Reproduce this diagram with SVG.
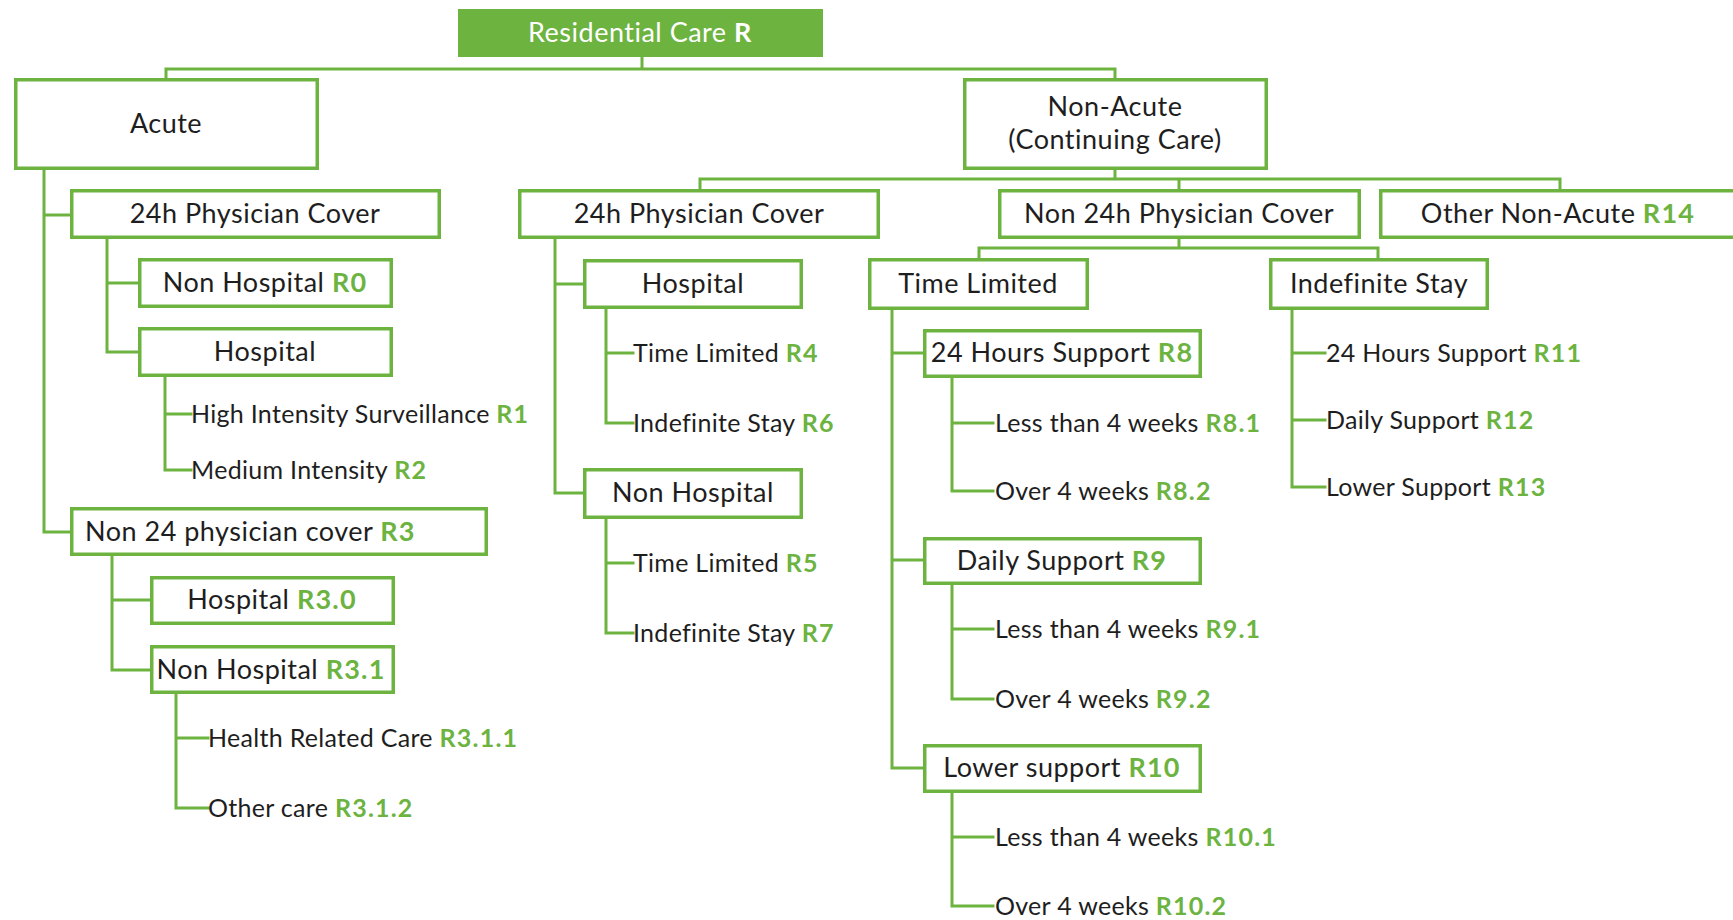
<svg xmlns="http://www.w3.org/2000/svg" width="1733" height="920" viewBox="0 0 1733 920">
  <style>
    .box { fill: #ffffff; stroke: #6cb33f; stroke-width: 3.5; }
    .root { fill: #6cb33f; stroke: #6cb33f; stroke-width: 2; }
    .link { fill: none; stroke: #6cb33f; stroke-width: 3; stroke-linejoin: miter; stroke-linecap: square; }
    text { font-family: Lato, "Open Sans", "Liberation Sans", sans-serif; fill: #1e1e1e; }
    .node { font-size: 27px; letter-spacing: 0.5px; text-anchor: middle; }
    .left { font-size: 27px; letter-spacing: 0.5px; }
    .leaf { font-size: 25px; letter-spacing: 0.3px; }
    .code { font-weight: bold; fill: #6cb33f; letter-spacing: 1.2px; }
    .white { fill: #ffffff; }
  </style>
  <rect width="1733" height="920" fill="#ffffff"/>

  <!-- tree connectors -->
  <g id="connectors" class="link">
    <path d="M642,57 V69 M166,78 V69 H1115 V78"/>
    <path d="M44,170 V532 H70 M44,215 H70"/>
    <path d="M107,239 V352 H138 M107,283 H138"/>
    <path d="M165,377 V470 H191 M165,414 H191"/>
    <path d="M112,556 V670 H150 M112,600 H150"/>
    <path d="M176,694 V808 H208 M176,738 H208"/>
    <path d="M1115,170 V179 M700,189 V179 H1560 V189 M1179,179 V189"/>
    <path d="M555,239 V493 H583 M555,284 H583"/>
    <path d="M606,309 V423 H633 M606,353 H633"/>
    <path d="M606,519 V633 H633 M606,563 H633"/>
    <path d="M1179,239 V248 M979,258 V248 H1378 V258"/>
    <path d="M892,310 V768 H923 M892,353 H923 M892,560 H923"/>
    <path d="M952,378 V491 H993 M952,423 H993"/>
    <path d="M952,585 V699 H993 M952,629 H993"/>
    <path d="M952,793 V906 H993 M952,837 H993"/>
    <path d="M1292,310 V487 H1325 M1292,353 H1325 M1292,420 H1325"/>
  </g>

  <g id="residential-care">
    <rect class="root" x="459" y="10" width="363" height="46"/>
    <text class="node" x="640" y="42"><tspan class="white">Residential Care </tspan><tspan class="white" font-weight="bold">R</tspan></text>
  </g>

  <g id="acute">
    <rect class="box" x="15.75" y="79.75" width="301.5" height="88.5"/>
    <text class="node" x="166" y="133">Acute</text>
  </g>

  <g id="non-acute">
    <rect class="box" x="964.75" y="79.75" width="301.5" height="88.5"/>
    <text class="node" x="1115" y="116">Non-Acute</text>
    <text class="node" x="1115" y="149">(Continuing Care)</text>
  </g>

  <g id="acute-24h">
    <rect class="box" x="71.75" y="190.75" width="367.5" height="46.5"/>
    <text class="node" x="255" y="223">24h Physician Cover</text>
  </g>

  <g id="acute-24h-non-hospital">
    <rect class="box" x="139.75" y="259.75" width="251.5" height="46.5"/>
    <text class="node" x="265" y="292">Non Hospital <tspan class="code">R0</tspan></text>
  </g>

  <g id="acute-24h-hospital">
    <rect class="box" x="139.75" y="328.75" width="251.5" height="46.5"/>
    <text class="node" x="265" y="361">Hospital</text>
  </g>

  <g id="r1">
    <text class="leaf" x="191" y="423">High Intensity Surveillance <tspan class="code">R1</tspan></text>
  </g>
  <g id="r2">
    <text class="leaf" x="191" y="479">Medium Intensity <tspan class="code">R2</tspan></text>
  </g>

  <g id="r3">
    <rect class="box" x="71.75" y="508.75" width="414.5" height="45.5"/>
    <text class="left" x="85" y="541">Non 24 physician cover <tspan class="code">R3</tspan></text>
  </g>

  <g id="r3-0">
    <rect class="box" x="151.75" y="577.75" width="241.5" height="45.5"/>
    <text class="node" x="272" y="609">Hospital <tspan class="code">R3.0</tspan></text>
  </g>

  <g id="r3-1">
    <rect class="box" x="151.75" y="646.75" width="241.5" height="45.5"/>
    <text class="node" x="271" y="679">Non Hospital <tspan class="code">R3.1</tspan></text>
  </g>

  <g id="r3-1-1">
    <text class="leaf" x="208" y="747">Health Related Care <tspan class="code">R3.1.1</tspan></text>
  </g>
  <g id="r3-1-2">
    <text class="leaf" x="208" y="817">Other care <tspan class="code">R3.1.2</tspan></text>
  </g>

  <g id="nonacute-24h">
    <rect class="box" x="519.75" y="190.75" width="358.5" height="46.5"/>
    <text class="node" x="699" y="223">24h Physician Cover</text>
  </g>

  <g id="nonacute-24h-hospital">
    <rect class="box" x="584.75" y="260.75" width="216.5" height="46.5"/>
    <text class="node" x="693" y="293">Hospital</text>
  </g>
  <g id="r4">
    <text class="leaf" x="633" y="362">Time Limited <tspan class="code">R4</tspan></text>
  </g>
  <g id="r6">
    <text class="leaf" x="633" y="432">Indefinite Stay <tspan class="code">R6</tspan></text>
  </g>

  <g id="nonacute-24h-non-hospital">
    <rect class="box" x="584.75" y="469.75" width="216.5" height="47.5"/>
    <text class="node" x="693" y="502">Non Hospital</text>
  </g>
  <g id="r5">
    <text class="leaf" x="633" y="572">Time Limited <tspan class="code">R5</tspan></text>
  </g>
  <g id="r7">
    <text class="leaf" x="633" y="642">Indefinite Stay <tspan class="code">R7</tspan></text>
  </g>

  <g id="non-24h">
    <rect class="box" x="999.75" y="190.75" width="359.5" height="46.5"/>
    <text class="node" x="1179" y="223">Non 24h Physician Cover</text>
  </g>

  <g id="r14">
    <rect class="box" x="1380.75" y="190.75" width="380" height="46.5"/>
    <text class="node" x="1558" y="223">Other Non-Acute <tspan class="code">R14</tspan></text>
  </g>

  <g id="time-limited">
    <rect class="box" x="869.75" y="259.75" width="217.5" height="48.5"/>
    <text class="node" x="978" y="293">Time Limited</text>
  </g>

  <g id="r8">
    <rect class="box" x="924.75" y="330.75" width="275.5" height="45.5"/>
    <text class="node" x="1062" y="362">24 Hours Support <tspan class="code">R8</tspan></text>
  </g>
  <g id="r8-1">
    <text class="leaf" x="995" y="432">Less than 4 weeks <tspan class="code">R8.1</tspan></text>
  </g>
  <g id="r8-2">
    <text class="leaf" x="995" y="500">Over 4 weeks <tspan class="code">R8.2</tspan></text>
  </g>

  <g id="r9">
    <rect class="box" x="924.75" y="538.75" width="275.5" height="44.5"/>
    <text class="node" x="1062" y="570">Daily Support <tspan class="code">R9</tspan></text>
  </g>
  <g id="r9-1">
    <text class="leaf" x="995" y="638">Less than 4 weeks <tspan class="code">R9.1</tspan></text>
  </g>
  <g id="r9-2">
    <text class="leaf" x="995" y="708">Over 4 weeks <tspan class="code">R9.2</tspan></text>
  </g>

  <g id="r10">
    <rect class="box" x="924.75" y="745.75" width="275.5" height="45.5"/>
    <text class="node" x="1062" y="777">Lower support <tspan class="code">R10</tspan></text>
  </g>
  <g id="r10-1">
    <text class="leaf" x="995" y="846">Less than 4 weeks <tspan class="code">R10.1</tspan></text>
  </g>
  <g id="r10-2">
    <text class="leaf" x="995" y="915">Over 4 weeks <tspan class="code">R10.2</tspan></text>
  </g>

  <g id="indefinite-stay">
    <rect class="box" x="1270.75" y="259.75" width="216.5" height="48.5"/>
    <text class="node" x="1379" y="293">Indefinite Stay</text>
  </g>
  <g id="r11">
    <text class="leaf" x="1326" y="362">24 Hours Support <tspan class="code">R11</tspan></text>
  </g>
  <g id="r12">
    <text class="leaf" x="1326" y="429">Daily Support <tspan class="code">R12</tspan></text>
  </g>
  <g id="r13">
    <text class="leaf" x="1326" y="496">Lower Support <tspan class="code">R13</tspan></text>
  </g>
</svg>
